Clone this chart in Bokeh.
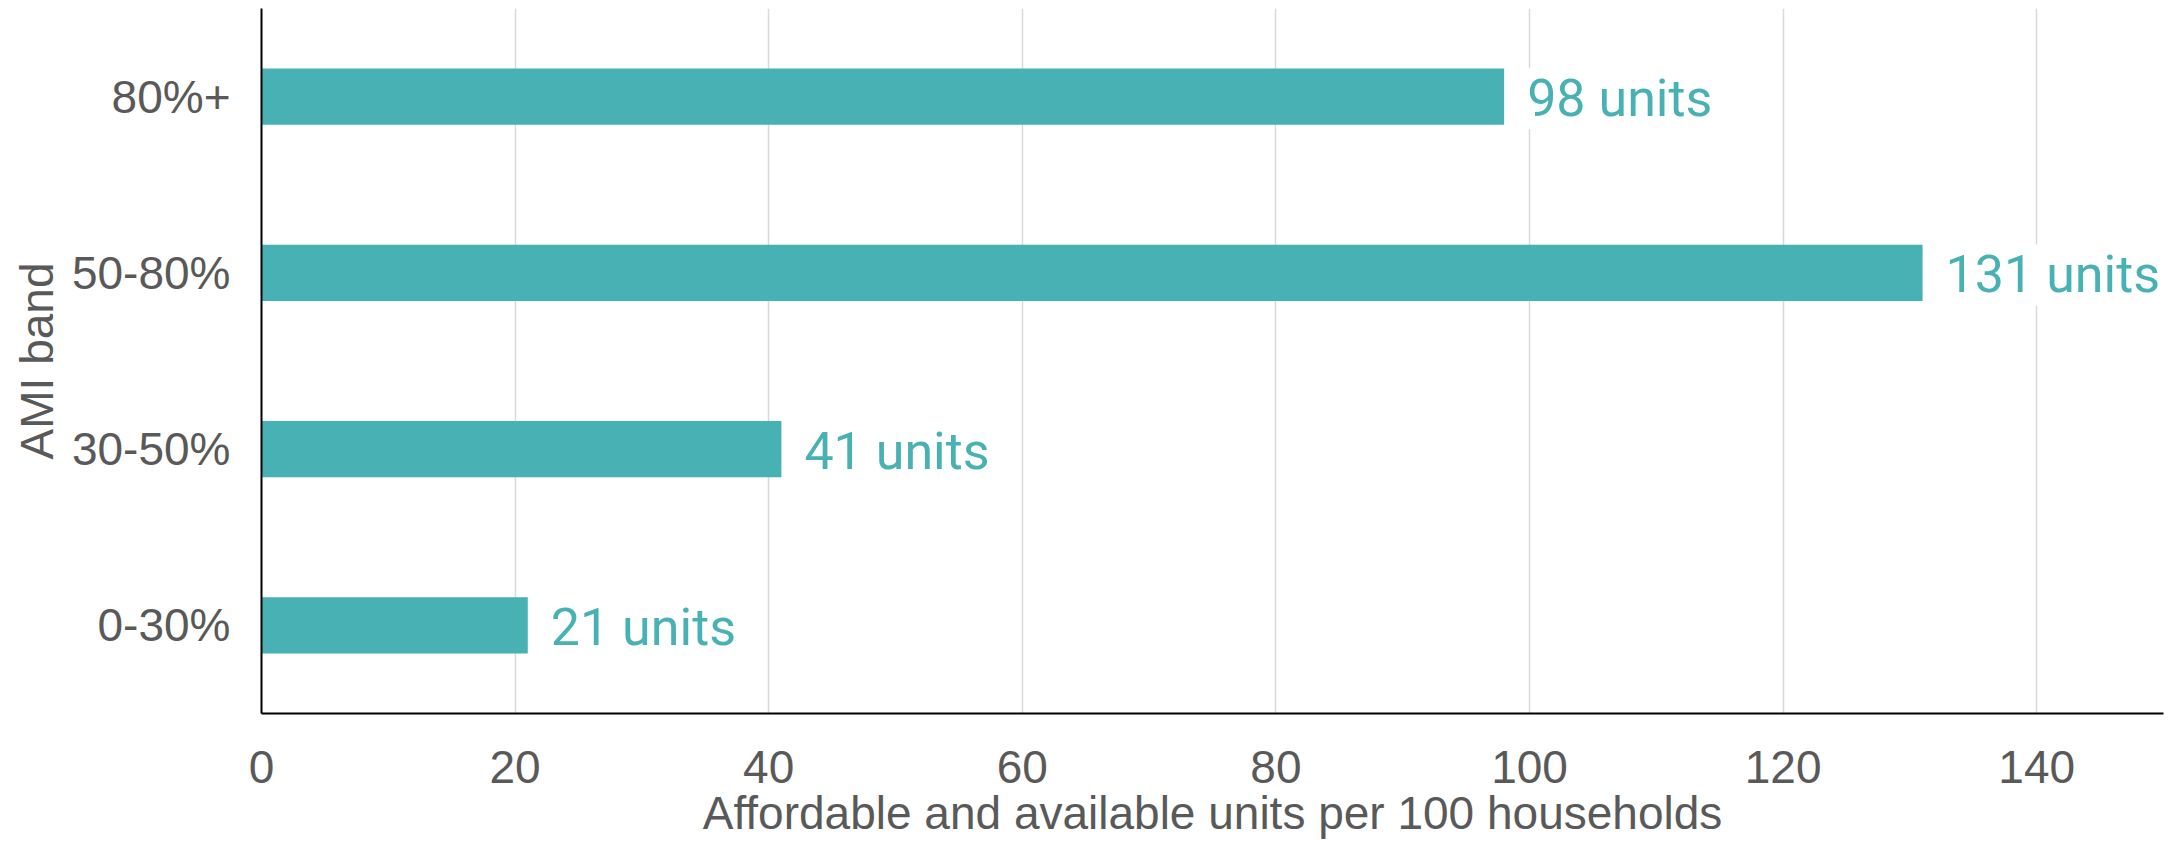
from bokeh.plotting import figure
from bokeh.models import Range1d, FixedTicker, ColumnDataSource, LabelSet
from bokeh.embed import file_html
from bokeh.resources import INLINE
from bokeh.core.properties import value

# ---- data ----
bands = ["0-30%", "30-50%", "50-80%", "80%+"]
units = [21, 41, 131, 98]
labels = [f"{u} units" for u in units]
x_ticks = [0, 20, 40, 60, 80, 100, 120, 140]
x_max = 150

TEAL = "#48B1B4"
GREY = "#595959"
AXFONT = "Liberation Sans"

src = ColumnDataSource(dict(band=bands, units=units, label=labels))

p = figure(
    y_range=bands,
    x_range=Range1d(0, x_max),
    width=2165,
    height=841,
    output_backend="svg",
    toolbar_location=None,
    min_border_left=261,
    min_border_right=2,
    min_border_top=8,
    min_border_bottom=128,
)
p.outline_line_color = None
p.background_fill_color = "white"
p.border_fill_color = "white"

p.hbar(y="band", left=0, right="units", height=0.32, source=src,
       fill_color=TEAL, line_color=None)

lbl = LabelSet(x="units", y="band", text="label", source=src,
               x_offset=23, y_offset=-2,
               text_baseline="middle", text_align="left",
               text_font=value("Roboto"), text_font_size="52px",
               text_color=TEAL, background_fill_color="white")
p.add_layout(lbl)

# grid
p.ygrid.grid_line_color = None
p.xgrid.grid_line_color = "#D9D9D9"
p.xgrid.grid_line_width = 1.5
p.xaxis.ticker = FixedTicker(ticks=x_ticks)

for ax in (p.xaxis[0], p.yaxis[0]):
    ax.axis_line_color = "black"
    ax.axis_line_width = 2
    ax.major_tick_line_color = None
    ax.minor_tick_line_color = None
    ax.major_tick_out = 0
    ax.major_tick_in = 0
    ax.major_label_text_font = AXFONT
    ax.major_label_text_font_size = "46px"
    ax.major_label_text_color = GREY
    ax.axis_label_text_font = AXFONT
    ax.axis_label_text_font_size = "46px"
    ax.axis_label_text_color = GREY
    ax.axis_label_text_font_style = "normal"

p.xaxis.axis_label = "Affordable and available units per 100 households"
p.yaxis.axis_label = "AMI band"
p.xaxis.major_label_standoff = 37
p.yaxis.major_label_standoff = 31
p.xaxis.axis_label_standoff = 1
p.yaxis.axis_label_standoff = 6

open("out.html", "w").write(file_html(p, INLINE))
